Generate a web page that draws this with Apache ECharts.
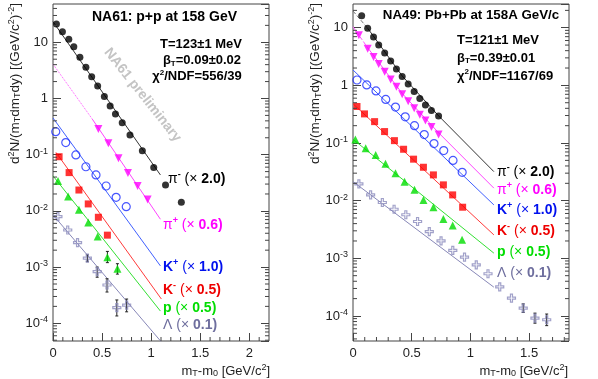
<!DOCTYPE html>
<html>
<head>
<meta charset="utf-8">
<script src="https://cdn.jsdelivr.net/npm/echarts@6/dist/echarts.min.js"></script>
<style>
  html, body { margin: 0; padding: 0; background: #fff; }
  #chart { width: 598px; height: 379px; }
</style>
</head>
<body>
<div id="chart"></div>
<script>
// NA61 p+p at 158 GeV : [mT-m0, d2N/(mT dmT dy)]
var ppPiMinus = [[0.035, 21.2], [0.096, 15.4], [0.161, 11.3], [0.212, 8.35], [0.274, 5.41], [0.335, 3.59],
  [0.394, 2.44], [0.455, 1.67], [0.523, 1.08], [0.582, 0.736], [0.636, 0.53], [0.705, 0.371],
  [0.784, 0.224], [0.91, 0.118], [1.026, 0.0592], [1.146, 0.0289], [1.307, 0.0142]];
var ppPiPlus = [[0.462, 0.286], [0.564, 0.16], [0.667, 0.086], [0.763, 0.047], [0.862, 0.0277], [0.964, 0.016]];
var ppKPlus = [[0.028, 0.257], [0.13, 0.164], [0.233, 0.099], [0.335, 0.061], [0.438, 0.0436], [0.541, 0.0277],
  [0.643, 0.0174], [0.746, 0.0119]];
var ppKMinus = [[0.062, 0.092], [0.164, 0.048], [0.264, 0.0235], [0.359, 0.0133], [0.462, 0.0077], [0.554, 0.0037]];
var ppProton = [[0.051, 0.034], [0.154, 0.018], [0.264, 0.0105], [0.359, 0.0062], [0.455, 0.0035], [0.554, 0.0015],
  [0.656, 0.00093]];
var ppLambda = [[0.05, 0.0079], [0.15, 0.00457], [0.25, 0.00272], [0.35, 0.00144], [0.45, 0.00083], [0.55, 0.00048],
  [0.65, 0.00019], [0.75, 0.00021]];
// error bars [x, low, high]
var ppProtonErr = [[0.554, 0.0012, 0.0019], [0.656, 0.00075, 0.00115]];
var ppLambdaErr = [[0.35, 0.00125, 0.00165], [0.45, 0.00066, 0.001], [0.55, 0.00036, 0.00062],
  [0.65, 0.000135, 0.00026], [0.75, 0.00016, 0.00027]];
// blast-wave fits
var ppFitPiMinus = [[0, 23.3], [1.094, 0.0436]];
var ppFitPiPlusExtra = [[0, 4.1], [0.4, 0.43]];
var ppFitPiPlus = [[0.4, 0.43], [1.094, 0.0071]];
var ppFitKPlus = [[0, 0.45], [1.094, 0.00105]];
var ppFitKMinus = [[0.03, 0.11], [1.104, 0.00027]];
var ppFitProton = [[0, 0.042], [1.094, 0.000165]];
var ppFitLambda = [[0, 0.0085], [1.1, 0.0000473]];

// NA49 Pb+Pb at 158A GeV/c
var pbPiMinus = [[0.074, 16.1], [0.125, 9.77], [0.175, 6.9], [0.219, 5.0], [0.27, 3.64], [0.321, 2.65],
  [0.37, 1.92], [0.419, 1.43], [0.47, 1.06], [0.521, 0.78], [0.569, 0.59], [0.617, 0.457], [0.668, 0.367],
  [0.729, 0.295]];
var pbPiPlus = [[0.05, 7.4], [0.125, 4.3], [0.175, 3.1], [0.219, 2.35], [0.27, 1.72], [0.321, 1.27], [0.37, 0.95],
  [0.419, 0.7], [0.47, 0.53], [0.521, 0.4], [0.569, 0.31], [0.617, 0.245], [0.668, 0.19], [0.729, 0.14]];
var pbKPlus = [[0.034, 1.24], [0.117, 1.02], [0.196, 0.8], [0.279, 0.57], [0.362, 0.42], [0.445, 0.285],
  [0.524, 0.2], [0.607, 0.14], [0.69, 0.098], [0.773, 0.074], [0.852, 0.05], [0.93, 0.031]];
var pbKMinus = [[0.034, 0.43], [0.098, 0.32], [0.184, 0.235], [0.269, 0.158], [0.353, 0.11], [0.431, 0.078],
  [0.516, 0.0525], [0.6, 0.038], [0.685, 0.028], [0.77, 0.0188], [0.849, 0.0126], [0.934, 0.0077]];
var pbProton = [[0.02, 0.115], [0.108, 0.081], [0.193, 0.062], [0.277, 0.0435], [0.362, 0.03], [0.439, 0.0214],
  [0.524, 0.0154], [0.6, 0.0103], [0.685, 0.0077], [0.77, 0.0048], [0.849, 0.0037], [0.929, 0.0021]];
var pbLambdaX = [0.05, 0.15, 0.25, 0.35, 0.45, 0.55, 0.65, 0.75, 0.85, 0.95, 1.05, 1.15, 1.25, 1.35, 1.45, 1.55, 1.65];
var pbLambdaY = [0.0195, 0.0126, 0.0093, 0.0071, 0.0057, 0.00435, 0.0029, 0.002, 0.00137, 0.00105, 0.00077,
  0.00054, 0.00032, 0.000204, 0.000137, 0.000092, 0.000086];
var pbLambdaErr = [[1.45, 0.000115, 0.000162], [1.55, 0.000075, 0.000112], [1.65, 0.000068, 0.000108]];
var pbFitPiMinusExtra = [[0, 19.5], [0.125, 9.8]];
var pbFitPiMinus = [[0.125, 9.8], [0.42, 1.45], [0.73, 0.295], [1.2, 0.0319]];
var pbFitPiPlusExtra = [[0, 10.4], [0.125, 4.5]];
var pbFitPiPlus = [[0.125, 4.5], [0.42, 0.72], [0.73, 0.15], [1.2, 0.0165]];
var pbFitKPlus = [[0, 1.85], [1.2, 0.00845]];
var pbFitKMinus = [[0, 0.48], [1.2, 0.00255]];
var pbFitProton = [[0, 0.116], [1.2, 0.00123]];
var pbFitLambda = [[0, 0.0214], [1.2, 0.000316]];

// axis ranges
var ppX = [0, 2.2], ppY = [4.84e-5, 48];
var pbX = [0, 1.84], pbY = [3.68e-5, 25.8];

var FONT = "'Liberation Sans', Arial, sans-serif";
var C = {
  pim: '#000000', pip: '#ff00ff', kp: '#1a2cff', km: '#ff0000', p: '#00dd00', lam: '#8a8abb'
};

var yMinor = [];
for (var e = -5; e <= 1; e++) for (var m = 2; m <= 9; m++) yMinor.push(m * Math.pow(10, e));
function xMinor(max) {
  var out = [];
  for (var i = 1; i * 0.1 < max - 1e-9; i++) if (i % 5 !== 0) out.push(Math.round(i * 10) / 100 * 10 / 10);
  return out.map(function (i) { return i; });
}

function powLabel(v) {
  var e = Math.round(Math.log10(v));
  if (Math.abs(v / Math.pow(10, e) - 1) > 1e-6) return '';
  if (e === 0) return '1';
  if (e === 1) return '10';
  return '10{sup|-' + Math.abs(e) + '}';
}

function xAxisCfg(gi, range) {
  return {
    type: 'value', gridIndex: gi, min: range[0], max: range[1], interval: 0.5,
    axisLine: { show: false },
    axisTick: { inside: true, length: 8, lineStyle: { color: '#444' } },
    splitLine: { show: false },
    axisLabel: { fontSize: 13, color: '#222', fontFamily: FONT, margin: 6, showMaxLabel: false,
      formatter: function (v) { return String(v); } }
  };
}
function yAxisCfg(gi, range, pos, labels) {
  return {
    type: 'log', logBase: 10, gridIndex: gi, position: pos, min: range[0], max: range[1],
    axisLine: { show: false },
    axisTick: { inside: true, length: 8, lineStyle: { color: '#444' } },
    splitLine: { show: false },
    axisLabel: labels ? {
      fontSize: 13, color: '#222', fontFamily: FONT, margin: 5,
      showMinLabel: false, showMaxLabel: false, formatter: powLabel,
      rich: { sup: { fontSize: 9, color: '#222', fontFamily: FONT, padding: [0, 0, 7, 0] } }
    } : { show: false }
  };
}

function fit(gi, data, color, type) {
  return { type: 'line', xAxisIndex: gi, yAxisIndex: gi * 2, data: data, symbol: 'none', silent: true,
    lineStyle: { color: color, width: 1, type: type || 'solid' }, z: 1 };
}
function marks(gi, data, symbol, color, size, extra) {
  var s = { type: 'scatter', xAxisIndex: gi, yAxisIndex: gi * 2, data: data, symbol: symbol,
    symbolSize: size, silent: true, itemStyle: { color: color }, z: 3 };
  for (var k in extra) s[k] = extra[k];
  return s;
}
function hollow(color) { return { color: 'rgba(0,0,0,0)', borderColor: color, borderWidth: 1.2 }; }
var crossPath = 'path://M3,0L5,0L5,3L8,3L8,5L5,5L5,8L3,8L3,5L0,5L0,3L3,3Z';

function errBars(gi, data) {
  return { type: 'custom', xAxisIndex: gi, yAxisIndex: gi * 2, data: data, silent: true, z: 2,
    encode: { x: 0, y: [1, 2] },
    renderItem: function (p, api) {
      var lo = api.coord([api.value(0), api.value(1)]);
      var hi = api.coord([api.value(0), api.value(2)]);
      var st = { stroke: '#222', lineWidth: 1 };
      return { type: 'group', children: [
        { type: 'line', shape: { x1: lo[0], y1: lo[1], x2: hi[0], y2: hi[1] }, style: st },
        { type: 'line', shape: { x1: lo[0] - 1.5, y1: lo[1], x2: lo[0] + 1.5, y2: lo[1] }, style: st },
        { type: 'line', shape: { x1: hi[0] - 1.5, y1: hi[1], x2: hi[0] + 1.5, y2: hi[1] }, style: st }
      ] };
    } };
}

function minorTicks(gi, xr, yr) {
  var yd = yMinor.filter(function (v) { return v > yr[0] && v < yr[1]; }).map(function (v) { return [xr[0], v, 0]; });
  var xd = [];
  for (var i = 1; i * 0.1 < xr[1] - 1e-9; i++) if (i % 5 !== 0) xd.push([i / 10, yr[0], 1]);
  return { type: 'custom', xAxisIndex: gi, yAxisIndex: gi * 2, data: yd.concat(xd), silent: true, z: 6,
    renderItem: function (p, api) {
      var st = { stroke: '#444', lineWidth: 1 };
      if (api.value(2) === 0) {
        var a = api.coord([xr[0], api.value(1)]);
        var b = api.coord([xr[1], api.value(1)]);
        return { type: 'group', children: [
          { type: 'line', shape: { x1: a[0], y1: a[1], x2: a[0] + 4, y2: a[1] }, style: st },
          { type: 'line', shape: { x1: b[0] - 4, y1: b[1], x2: b[0], y2: b[1] }, style: st }
        ] };
      }
      var c = api.coord([api.value(0), yr[0]]);
      return { type: 'line', shape: { x1: c[0], y1: c[1], x2: c[0], y2: c[1] - 4 }, style: st };
    } };
}

function txt(x, y, text, o) {
  o = o || {};
  return { type: 'text', x: x, y: y, rotation: o.rot || 0, silent: true, z: 10,
    style: { text: text, fontFamily: FONT, fontSize: o.size || 13, fontWeight: o.weight || 'normal',
      fill: o.color || '#000', align: o.align || 'left', textAlign: o.align || 'left',
      verticalAlign: 'middle', textVerticalAlign: 'middle', rich: o.rich || {} } };
}
function richFor(color, size) {
  return {
    n: { fontSize: size, fontWeight: 'normal', fill: color, color: color, fontFamily: FONT },
    b: { fontSize: size, fontWeight: 'bold', fill: color, color: color, fontFamily: FONT },
    sup: { fontSize: Math.round(size * 0.65), fontWeight: 'bold', fill: color, color: color, fontFamily: FONT, padding: [0, 0, 8, 0] },
    sub: { fontSize: Math.round(size * 0.65), fontWeight: 'bold', fill: color, color: color, fontFamily: FONT, padding: [6, 0, 0, 0] }
  };
}
function species(x, y, text, color) {
  return txt(x, y, text, { color: color, size: 14, rich: richFor(color, 14) });
}
var plain = {
  sup: { fontSize: 9, fontFamily: FONT, fill: '#222', padding: [0, 0, 7, 0] },
  sub: { fontSize: 9, fontFamily: FONT, fill: '#222', padding: [6, 0, 0, 0] }
};
var boldRich = richFor('#000', 13);

var yTitle = 'd{sup|2}N/(m{sub|T}dm{sub|T}dy) [(GeV/c{sup|2}){sup|-2}]';
var xTitle = 'm{sub|T}-m{sub|0} [GeV/c{sup|2}]';

var chart = echarts.init(document.getElementById('chart'), null, { renderer: 'canvas' });
chart.setOption({
  animation: false,
  backgroundColor: '#fff',
  grid: [
    { left: 53, top: 4, width: 216, height: 337, show: true, borderColor: '#444', borderWidth: 1, backgroundColor: 'transparent' },
    { left: 353, top: 4, width: 216, height: 337, show: true, borderColor: '#444', borderWidth: 1, backgroundColor: 'transparent' }
  ],
  xAxis: [xAxisCfg(0, ppX), xAxisCfg(1, pbX)],
  yAxis: [yAxisCfg(0, ppY, 'left', true), yAxisCfg(0, ppY, 'right', false),
    yAxisCfg(1, pbY, 'left', true), yAxisCfg(1, pbY, 'right', false)],
  series: [
    fit(0, ppFitPiMinus, '#333'),
    fit(0, ppFitPiPlusExtra, '#ff55ff', 'dotted'),
    fit(0, ppFitPiPlus, '#ff44ff'),
    fit(0, ppFitKPlus, '#4060ff'),
    fit(0, ppFitKMinus, '#ff3a3a'),
    fit(0, ppFitProton, '#33e033'),
    fit(0, ppFitLambda, '#8888b8'),
    errBars(0, ppProtonErr),
    errBars(0, ppLambdaErr),
    marks(0, ppPiMinus, 'circle', C.pim, 7),
    marks(0, ppPiPlus, 'triangle', C.pip, 8, { symbolRotate: 180 }),
    marks(0, ppKPlus, 'circle', C.kp, 8, { itemStyle: hollow(C.kp) }),
    marks(0, ppKMinus, 'rect', C.km, 7),
    marks(0, ppProton, 'triangle', C.p, 8),
    marks(0, ppLambda, crossPath, C.lam, 8, { itemStyle: hollow(C.lam) }),
    minorTicks(0, ppX, ppY),

    fit(1, pbFitPiMinusExtra, '#777', 'dashed'),
    fit(1, pbFitPiMinus, '#333'),
    fit(1, pbFitPiPlusExtra, '#ff55ff', 'dashed'),
    fit(1, pbFitPiPlus, '#ff44ff'),
    fit(1, pbFitKPlus, '#4060ff'),
    fit(1, pbFitKMinus, '#ff3a3a'),
    fit(1, pbFitProton, '#33e033'),
    fit(1, pbFitLambda, '#8888b8'),
    errBars(1, pbLambdaErr),
    marks(1, pbPiMinus, 'circle', C.pim, 7),
    marks(1, pbPiPlus, 'triangle', C.pip, 8, { symbolRotate: 180 }),
    marks(1, pbKPlus, 'circle', C.kp, 8, { itemStyle: hollow(C.kp) }),
    marks(1, pbKMinus, 'rect', C.km, 7),
    marks(1, pbProton, 'triangle', C.p, 8),
    marks(1, pbLambdaX.map(function (x, i) { return [x, pbLambdaY[i]]; }), crossPath, C.lam, 8, { itemStyle: hollow(C.lam) }),
    minorTicks(1, pbX, pbY)
  ],
  graphic: [
    txt(164.5, 17.5, 'NA61: p+p at 158 GeV', { size: 14, weight: 'bold', align: 'center' }),
    txt(201, 44.5, 'T=123±1 MeV', { weight: 'bold', align: 'center' }),
    txt(202, 60.5, '{b|β}{sub|T}{b|=0.09±0.02}', { weight: 'bold', align: 'center', rich: boldRich }),
    txt(197, 76.5, '{b|χ}{sup|2}{b|/NDF=556/39}', { weight: 'bold', align: 'center', rich: boldRich }),
    txt(142.5, 95, 'NA61 preliminary', { size: 14, weight: 'bold', color: '#c4c4c4', align: 'center', rot: -0.9 }),
    species(168, 179, '{n|π}{sup|-} {n|(×} {b|2.0)}', '#000'),
    species(163, 225, '{n|π}{sup|+} {n|(×} {b|0.6)}', '#ff00ff'),
    species(163, 267, '{b|K}{sup|+} {n|(×} {b|1.0)}', '#0010ee'),
    species(163, 290, '{b|K}{sup|-} {n|(×} {b|0.5)}', '#ee0000'),
    species(163, 308, '{b|p} {n|(×} {b|0.5)}', '#00dd00'),
    species(163, 325, '{n|Λ} {n|(×} {b|0.1)}', '#6e6e9e'),

    txt(471, 15.5, 'NA49: Pb+Pb at 158A GeV/c', { size: 13.3, weight: 'bold', align: 'center' }),
    txt(457, 40.5, 'T=121±1 MeV', { weight: 'bold' }),
    txt(457, 58, '{b|β}{sub|T}{b|=0.39±0.01}', { weight: 'bold', rich: boldRich }),
    txt(457, 76, '{b|χ}{sup|2}{b|/NDF=1167/69}', { weight: 'bold', rich: boldRich }),
    species(497, 172, '{n|π}{sup|-} {n|(×} {b|2.0)}', '#000'),
    species(497, 190, '{n|π}{sup|+} {n|(×} {b|0.6)}', '#ff00ff'),
    species(497, 210, '{b|K}{sup|+} {n|(×} {b|1.0)}', '#0010ee'),
    species(497, 231, '{b|K}{sup|-} {n|(×} {b|0.5)}', '#ee0000'),
    species(497, 252, '{b|p} {n|(×} {b|0.5)}', '#00dd00'),
    species(497, 273, '{n|Λ} {n|(×} {b|0.1)}', '#6e6e9e'),

    txt(15, 3, yTitle, { size: 13.5, color: '#222', align: 'right', rot: Math.PI / 2, rich: plain }),
    txt(315.5, 3, yTitle, { size: 13.5, color: '#222', align: 'right', rot: Math.PI / 2, rich: plain }),
    txt(270, 371, xTitle, { size: 13, color: '#222', align: 'right', rich: plain }),
    txt(568, 371, xTitle, { size: 13, color: '#222', align: 'right', rich: plain })
  ]
});
</script>
</body>
</html>
